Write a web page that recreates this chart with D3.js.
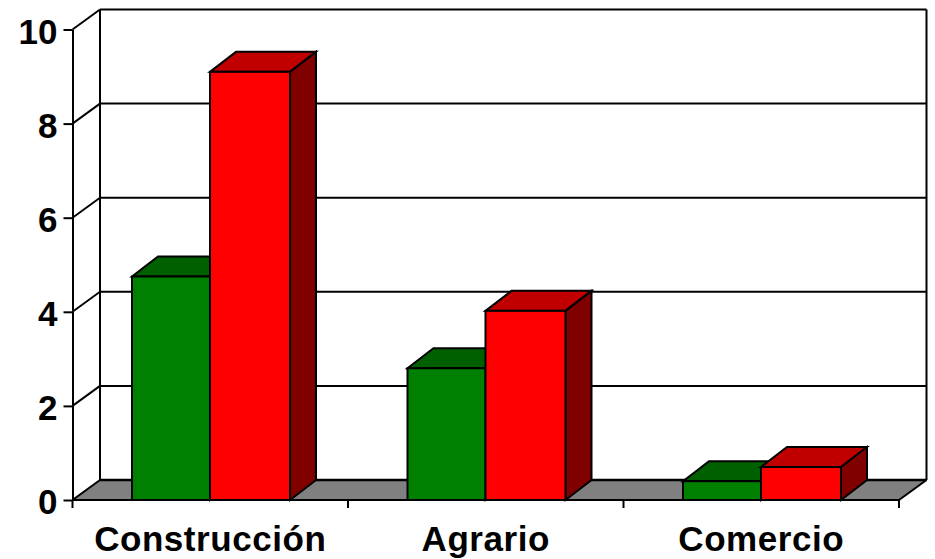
<!DOCTYPE html>
<html><head><meta charset="utf-8">
<script src="https://cdn.jsdelivr.net/npm/d3@7/dist/d3.min.js"></script>
<style>html,body{margin:0;padding:0;background:#fff}svg{display:block}
text{font-family:"Liberation Sans",Arial,sans-serif;font-weight:bold;fill:#000}</style>
</head><body><svg id="c" width="935" height="559"></svg>
<script>
const categories = ["Construcción", "Agrario", "Comercio"];
const seriesGreen = [4.75, 2.8, 0.4];
const seriesRed = [9.1, 4.02, 0.7];
const yTicks = [0, 2, 4, 6, 8, 10];

const colors = {
  green: {front: "#008000", top: "#006000", side: "#004000"},
  red: {front: "#ff0000", top: "#c00000", side: "#800000"}
};
const dx = 27.5, dy = -20, barDx = 26;
const svg = d3.select("#c");
const x = d3.scaleBand().domain(categories).range([72.5, 899]);
const y = d3.scaleLinear().domain([0, 10]).range([500, 29.5]);
const line = (g, x1, y1, x2, y2, w = 2) => g.append("line").attr("x1", x1).attr("y1", y1).attr("x2", x2).attr("y2", y2).attr("stroke", "#000").attr("stroke-width", w);

const [x0, x1] = x.range();
// floor
svg.append("path")
  .attr("d", `M${x0},${y(0)}L${x0 + dx},${y(0) + dy}H${x1 + dx}L${x1},${y(0)}Z`)
  .attr("fill", "#808080");

// walls and gridlines
const wall = svg.append("g");
yTicks.forEach(t => {
  line(wall, x0 + dx, y(t) + dy, x1 + dx, y(t) + dy, t === 0 ? 2.5 : 2);
  line(wall, x0, y(t), x0 + dx, y(t) + dy);
});
line(wall, x0 + dx, y(10) + dy, x0 + dx, y(0) + dy);
line(wall, x1 + dx, y(10) + dy, x1 + dx, y(0) + dy);
line(wall, x1, y(0), x1 + dx, y(0) + dy);

// axes
const yAxis = svg.append("g").attr("transform", `translate(${x0},0)`)
  .call(d3.axisLeft(y).tickValues(yTicks).tickSize(9).tickPadding(6).tickSizeOuter(0));
yAxis.selectAll("line,path").attr("stroke", "#000").attr("stroke-width", 2);
yAxis.selectAll("text").style("font-size", "35px").attr("dy", "0.39em");
yAxis.attr("font-family", null).attr("font-size", null);

const xAxis = svg.append("g").attr("transform", `translate(0,${y(0)})`)
  .call(d3.axisBottom(x).tickSize(0).tickPadding(26));
xAxis.attr("font-family", null).attr("font-size", null);
xAxis.select("path").remove();
xAxis.selectAll("line").remove();
xAxis.selectAll("text").style("font-size", "35px").attr("dy", "0.71em").attr("letter-spacing", "0.55px");
const edges = [...categories.map(c => x(c)), x1];
edges.forEach(e => line(svg, e, y(0), e, y(0) + 8));
line(svg, x0, y(0), x1, y(0));

// bars
const barOffset = [59.5, 137.5];
const barWidth = [78, 80];
function bar3d(g, v, i, c, cat) {
  const l = x(cat) + barOffset[i], r = l + barWidth[i], t = y(v), b = y(0);
  g.append("path").attr("d", `M${l},${t}L${l + barDx},${t + dy}H${r + barDx}L${r},${t}Z`).attr("fill", c.top).attr("stroke", "#000").attr("stroke-width", 2);
  g.append("path").attr("d", `M${r},${t}L${r + barDx},${t + dy}V${b + dy}L${r},${b}Z`).attr("fill", c.side).attr("stroke", "#000").attr("stroke-width", 2);
  g.append("rect").attr("x", l).attr("y", t).attr("width", r - l).attr("height", b - t).attr("fill", c.front).attr("stroke", "#000").attr("stroke-width", 2);
}
categories.forEach((cat, k) => {
  const g = svg.append("g");
  bar3d(g, seriesGreen[k], 0, colors.green, cat);
  bar3d(g, seriesRed[k], 1, colors.red, cat);
});
</script></body></html>
